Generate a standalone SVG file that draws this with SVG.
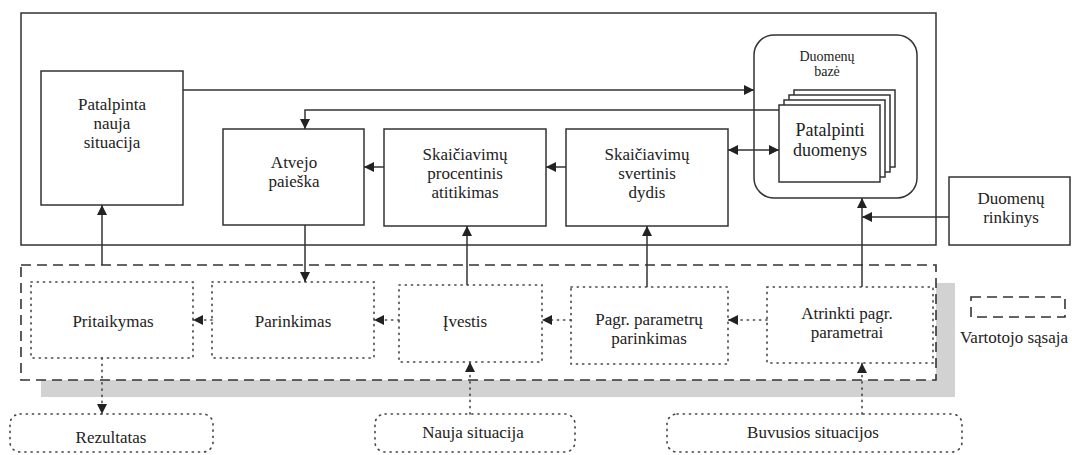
<svg xmlns="http://www.w3.org/2000/svg" width="1072" height="455" viewBox="0 0 1072 455">
<style>
.t{font-size:17px;fill:#222;text-anchor:middle}
.sm{font-size:14px}
.box{fill:#fff;stroke:#333;stroke-width:1.5}
.dot{fill:#fff;stroke:#444;stroke-width:1.6;stroke-dasharray:1.2 5;stroke-linecap:round}
.dash{fill:none;stroke:#333;stroke-width:1.6;stroke-dasharray:10 6}
.ln{fill:none;stroke:#333;stroke-width:1.5}
.dl{fill:none;stroke:#444;stroke-width:1.6;stroke-dasharray:1.2 5;stroke-linecap:round}
</style>
<defs>
<marker id="ah" viewBox="0 0 10 10" refX="10" refY="5" markerWidth="10" markerHeight="10" markerUnits="userSpaceOnUse" orient="auto-start-reverse">
<path d="M0,0 L10,5 L0,10 z" fill="#222"/>
</marker>
</defs>
<rect width="1072" height="455" fill="#fff"/>
<g id="system">
<rect x="21" y="13" width="915" height="232" class="box" fill="none"/>
</g>
<g id="ui-shadow"><rect x="41" y="283" width="914" height="114" fill="#d2d2d2"/></g>
<g id="ui">
<rect x="21" y="265" width="915" height="115" fill="#fff" stroke="none"/>
<rect x="21" y="265" width="915" height="115" class="dash"/>
</g>
<g font-family="Liberation Serif, serif" class="t">
<g id="patalpinta-nauja">
<rect x="41" y="71" width="142" height="134" class="box"/>
<text x="112" y="110">Patalpinta</text><text x="112" y="129">nauja</text><text x="112" y="148">situacija</text>
</g>
<g id="atvejo-paieska">
<rect x="223" y="129" width="141" height="96" class="box"/>
<text x="294" y="168">Atvejo</text><text x="294" y="187">paieška</text>
</g>
<g id="procentinis">
<rect x="384" y="129" width="162" height="97" class="box"/>
<text x="465" y="160">Skaičiavimų</text><text x="465" y="179">procentinis</text><text x="465" y="198">atitikimas</text>
</g>
<g id="svertinis">
<rect x="566" y="129" width="162" height="97" class="box"/>
<text x="647" y="160">Skaičiavimų</text><text x="647" y="179">svertinis</text><text x="647" y="198">dydis</text>
</g>
<g id="duomenu-baze">
<rect x="754" y="35" width="163" height="163" rx="20" class="box"/>
<text x="827" y="61" class="sm">Duomenų</text><text x="827" y="76" class="sm">bazė</text>
<rect x="794" y="90" width="101" height="77" class="box"/>
<rect x="789" y="95" width="101" height="77" class="box"/>
<rect x="784" y="100" width="101" height="77" class="box"/>
<rect x="779" y="105" width="101" height="77" class="box"/>
<text x="830" y="136" style="font-size:18px">Patalpinti</text><text x="830" y="156" style="font-size:18px">duomenys</text>
</g>
<g id="duomenu-rinkinys">
<rect x="949" y="177" width="121" height="68" class="box"/>
<text x="1011" y="204">Duomenų</text><text x="1011" y="223">rinkinys</text>
</g>
<g id="pritaikymas"><rect x="31" y="282" width="162" height="76" class="dot"/><text x="113" y="327">Pritaikymas</text></g>
<g id="parinkimas"><rect x="212" y="282" width="162" height="76" class="dot"/><text x="293" y="327">Parinkimas</text></g>
<g id="ivestis"><rect x="399" y="285" width="143" height="77" class="dot"/><text x="465" y="327">Įvestis</text></g>
<g id="pagr-parinkimas"><rect x="571" y="287" width="157" height="77" class="dot"/><text x="649" y="325">Pagr. parametrų</text><text x="649" y="344">parinkimas</text></g>
<g id="atrinkti"><rect x="767" y="287" width="166" height="76" class="dot"/><text x="847" y="319">Atrinkti pagr.</text><text x="847" y="338">parametrai</text></g>
<g id="rezultatas"><rect x="10" y="414" width="203" height="38" rx="10" class="dot"/><text x="111" y="443">Rezultatas</text></g>
<g id="nauja-situacija"><rect x="375" y="414" width="200" height="38" rx="10" class="dot"/><text x="473" y="438">Nauja situacija</text></g>
<g id="buvusios"><rect x="667" y="414" width="295" height="38" rx="10" class="dot"/><text x="813" y="438">Buvusios situacijos</text></g>
<g id="legend">
<rect x="971" y="297" width="94" height="20" class="dash"/>
<text x="1014" y="343">Vartotojo sąsaja</text>
</g>
</g>
<g id="connectors">
<path d="M183,90 H754" class="ln" marker-end="url(#ah)"/>
<path d="M779,110 H305 V129" class="ln" marker-end="url(#ah)"/>
<path d="M728,150 H779" class="ln" marker-start="url(#ah)" marker-end="url(#ah)"/>
<path d="M384,167 H364" class="ln" marker-end="url(#ah)"/>
<path d="M566,167 H546" class="ln" marker-end="url(#ah)"/>
<path d="M949,217 H862" class="ln" marker-end="url(#ah)"/>
<path d="M862,287 V198" class="ln" marker-end="url(#ah)"/>
<path d="M102,265 V205" class="ln" marker-end="url(#ah)"/>
<path d="M305,225 V282" class="ln" marker-end="url(#ah)"/>
<path d="M467,285 V226" class="ln" marker-end="url(#ah)"/>
<path d="M647,287 V226" class="ln" marker-end="url(#ah)"/>
<path d="M212,320 H193" class="dl" marker-end="url(#ah)"/>
<path d="M399,320 H374" class="dl" marker-end="url(#ah)"/>
<path d="M571,320 H542" class="dl" marker-end="url(#ah)"/>
<path d="M767,320 H728" class="dl" marker-end="url(#ah)"/>
<path d="M102,358 V414" class="dl" marker-end="url(#ah)"/>
<path d="M470,414 V362" class="dl" marker-end="url(#ah)"/>
<path d="M862,414 V363" class="dl" marker-end="url(#ah)"/>
</g>
</svg>
